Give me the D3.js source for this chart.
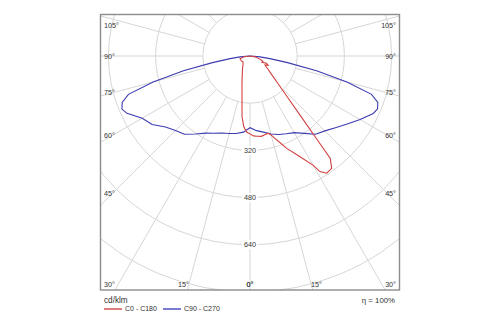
<!DOCTYPE html>
<html>
<head>
<meta charset="utf-8">
<script src="https://cdn.jsdelivr.net/npm/d3@7"></script>
<style>
  html, body { margin: 0; padding: 0; background: #fff; }
  svg { display: block; }
  text { font-family: "Liberation Sans", Arial, sans-serif; fill: #333; }
</style>
</head>
<body>
<svg id="chart" width="500" height="325"></svg>
<script>
// Luminous intensity distribution, cd/klm, gamma measured from nadir.

// C0 - C180 plane (asymmetric)
const c0Gamma   = [0, 2.5, 5, 8, 11, 13.3, 15.5, 17.6, 21.7, 26.4, 30, 31.2, 33.2, 36, 38.1, 38.8, 40, 42.5, 45, 50, 55, 59, 63, 66, 62, 68, 72, 80, 90];
const c0Values  = [264, 271, 273, 275, 271, 269, 281, 298, 337, 381, 427, 458, 475, 471, 441, 359, 275, 183, 139, 93, 71, 59, 69, 61, 46, 47, 37, 17, 0];
const c180Gamma  = [0, 2.5, 5, 7.5, 10, 12.5, 15, 20, 25, 30, 40, 50, 57, 65, 75, 82, 90];
const c180Values = [264, 258, 241, 207, 156, 125, 105, 78, 61, 51, 37, 31, 33, 34, 35, 20, 0];

// C90 - C270 plane (batwing)
const c90Gamma   = [0, 5, 10, 15, 20, 25, 30, 35, 40, 45, 50, 55, 60, 65, 67.5, 70, 72.5, 75, 77.5, 80, 82.5, 85, 87.5, 90];
const c90Values  = [243, 254, 262, 274, 283, 291, 300, 320, 346, 359, 378, 402, 431, 461, 468, 461, 432, 340, 231, 129, 68, 34, 14, 0];
const c270Values = [243, 259, 267, 272, 278, 289, 302, 323, 346, 357, 374, 405, 422, 460, 470, 461, 432, 340, 231, 129, 68, 34, 14, 0];

// Grid
const ringValues   = [160, 320, 480, 640, 800, 960];
const ringLabels   = [320, 480, 640];
const sideAngles   = [105, 90, 75, 60, 45, 30];
const bottomAngles = [15, 0];

const legendNames  = ["C0 - C180", "C90 - C270"];
const unitLabel    = "cd/klm";
const effLabel     = "\u03B7 = 100%";

const colRed  = "#d23f3f";
const colBlue = "#3c3cb0";

const svg = d3.select("#chart");
const frame = { x: 100.5, y: 14.5, w: 299, h: 275.5 };
const cx = 250, cy = 56;

const r = d3.scaleLinear().domain([0, 640]).range([0, 188.8]);
const rad = d => d * Math.PI / 180;

svg.append("defs").append("clipPath").attr("id", "plot-clip")
  .append("rect").attr("x", frame.x).attr("y", frame.y).attr("width", frame.w).attr("height", frame.h);

const plot = svg.append("g").attr("clip-path", "url(#plot-clip)");
const g = plot.append("g").attr("transform", `translate(${cx},${cy})`);

// rings
g.selectAll("circle.ring").data(ringValues).join("circle")
  .attr("class", "ring")
  .attr("r", d => r(d))
  .attr("fill", "none").attr("stroke", "#d6d6d6").attr("stroke-width", 1);

// spokes every 15 degrees, starting outside the innermost ring
const spokes = d3.range(-180, 180, 15);
g.selectAll("line.spoke").data(spokes).join("line")
  .attr("class", "spoke")
  .attr("x1", d => r(160) * Math.sin(rad(d)))
  .attr("y1", d => r(160) * Math.cos(rad(d)))
  .attr("x2", d => r(1400) * Math.sin(rad(d)))
  .attr("y2", d => r(1400) * Math.cos(rad(d)))
  .attr("stroke", "#d6d6d6").attr("stroke-width", 1);

// curves: gamma 0 points down, positive gamma to the right
const radial = d3.lineRadial()
  .angle(d => Math.PI - rad(d[0]))
  .radius(d => r(d[1]))
  .curve(d3.curveLinear);

function plane(rightG, rightV, leftG, leftV) {
  const left = leftG.map((a, i) => [-a, leftV[i]]).reverse();
  const right = rightG.map((a, i) => [a, rightV[i]]);
  return left.concat(right.slice(1));
}

g.append("path")
  .attr("d", radial(plane(c90Gamma, c90Values, c90Gamma, c270Values)))
  .attr("fill", "none").attr("stroke", colBlue).attr("stroke-width", 1.1);

g.append("path")
  .attr("d", radial(plane(c0Gamma, c0Values, c180Gamma, c180Values)))
  .attr("fill", "none").attr("stroke", colRed).attr("stroke-width", 1.1);

// ring labels
const rl = g.selectAll("g.rlab").data(ringLabels).join("g")
  .attr("class", "rlab")
  .attr("transform", d => `translate(0,${r(d)})`);
rl.append("rect").attr("x", -8).attr("y", -4.5).attr("width", 16).attr("height", 9).attr("fill", "#fff");
rl.append("text").attr("text-anchor", "middle").attr("dy", "0.35em")
  .style("font-size", "7.2px").text(d => d);

// frame
svg.append("rect")
  .attr("x", frame.x).attr("y", frame.y).attr("width", frame.w).attr("height", frame.h)
  .attr("fill", "none").attr("stroke", "#8c8c8c").attr("stroke-width", 1.4);

// angle labels along the sides
const inset = 137;
function sideY(a) {
  const y = cy + inset * Math.cos(rad(a)) / Math.sin(rad(a));
  return Math.max(25, Math.min(284, y));
}
[-1, 1].forEach(side => {
  svg.selectAll(null).data(sideAngles).join("text")
    .attr("x", side < 0 ? 104 : 396)
    .attr("y", d => sideY(d))
    .attr("dy", "0.35em")
    .attr("text-anchor", side < 0 ? "start" : "end")
    .style("font-size", "7.2px")
    .text(d => d + "\u00B0");
  svg.selectAll(null).data(bottomAngles).join("text")
    .attr("x", d => cx + side * 228 * Math.tan(rad(d)))
    .attr("y", 284)
    .attr("dy", "0.35em")
    .attr("text-anchor", d => d === 0 ? "middle" : (side < 0 ? "end" : "start"))
    .style("font-size", "7.2px")
    .text(d => d + "\u00B0");
});

// unit, efficiency, legend
svg.append("text").attr("x", 104).attr("y", 300).attr("dy", "0.35em")
  .style("font-size", "8.2px").text(unitLabel);
svg.append("text").attr("x", 395).attr("y", 300).attr("dy", "0.35em")
  .attr("text-anchor", "end").style("font-size", "7.8px").text(effLabel);

const legendX = [104, 163];
const legendCol = ["#e27b7b", "#7b7bd0"];
legendNames.forEach((name, i) => {
  svg.append("line")
    .attr("x1", legendX[i]).attr("x2", legendX[i] + 18)
    .attr("y1", 309).attr("y2", 309)
    .attr("stroke", legendCol[i]).attr("stroke-width", 2);
  svg.append("text").attr("x", legendX[i] + 21).attr("y", 309).attr("dy", "0.35em")
    .style("font-size", "7px").text(name);
});
</script>
</body>
</html>
